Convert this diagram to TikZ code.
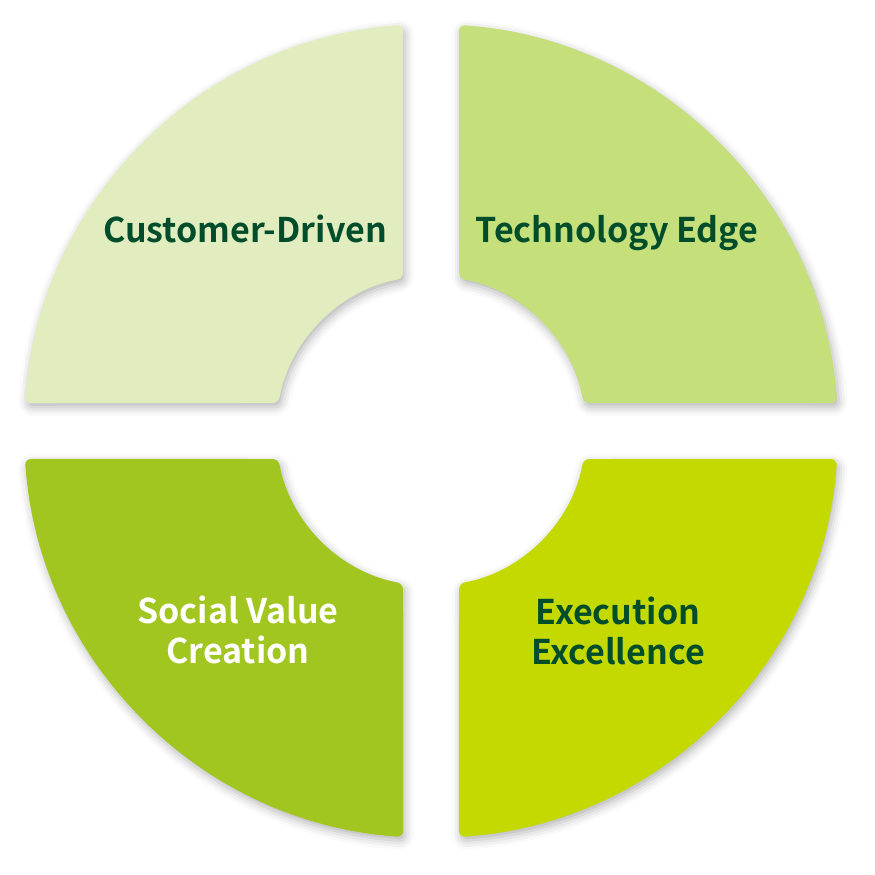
\documentclass[tikz,border=0pt]{standalone}
\usepackage{fontspec}
\newfontfamily\labfont{Noto Sans CJK JP Bold}
\usetikzlibrary{shadows.blur}
\definecolor{qtl}{HTML}{E1EDBF}
\definecolor{qtr}{HTML}{C5DF7B}
\definecolor{qbl}{HTML}{A2C620}
\definecolor{qbr}{HTML}{C4D900}
\definecolor{darktext}{HTML}{004D2B}
\begin{document}
\begin{tikzpicture}[x=1pt,y=1pt,
  quad/.style={rounded corners=6pt, blur shadow={shadow xshift=2pt, shadow yshift=-4pt, shadow blur radius=9pt, shadow opacity=30}},
  lab/.style={font=\labfont\fontsize{34}{40}\selectfont, align=center, anchor=base, inner sep=0pt}]
\useasboundingbox (-431,-444) rectangle (444,431);
\path[quad, fill=qtl] (93.94:407) arc[start angle=93.94, end angle=176.06, radius=407] -- (169.59:155) arc[start angle=169.59, end angle=100.41, radius=155] -- cycle;
\path[quad, fill=qtr] (3.94:407) arc[start angle=3.94, end angle=86.06, radius=407] -- (79.59:155) arc[start angle=79.59, end angle=10.41, radius=155] -- cycle;
\path[quad, fill=qbl] (183.94:407) arc[start angle=183.94, end angle=266.06, radius=407] -- (259.59:155) arc[start angle=259.59, end angle=190.41, radius=155] -- cycle;
\path[quad, fill=qbr] (273.94:407) arc[start angle=273.94, end angle=356.06, radius=407] -- (349.59:155) arc[start angle=349.59, end angle=280.41, radius=155] -- cycle;
\node[lab, text=darktext] (cd) at (-186,188) {Customer-Driven};
\node[lab, text=darktext] (te) at (186,188) {Technology Edge};
\node[lab, text=white] (sv) at (-193,-232) {Social Value\\Creation};
\node[lab, text=darktext] (ee) at (187,-233) {Execution\\Excellence};
\end{tikzpicture}
\end{document}
